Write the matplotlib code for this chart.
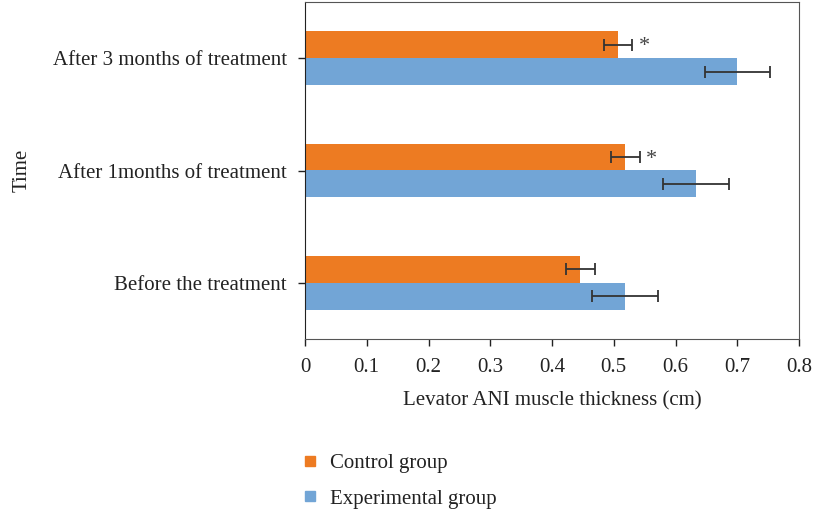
import numpy as np
import matplotlib.pyplot as plt
from matplotlib.lines import Line2D

categories = ['Before the treatment', 'After 1months of treatment',
              'After 3 months of treatment']
control = [0.446, 0.519, 0.507]
control_err = [0.023, 0.023, 0.023]
experimental = [0.518, 0.633, 0.700]
experimental_err = [0.053, 0.054, 0.053]
significant = [False, True, True]

plt.rcParams['font.family'] = ['Liberation Serif', 'DejaVu Serif']

c_orange = '#ED7B22'
c_blue = '#72A5D6'
fs = 15

fig = plt.figure(figsize=(8.19, 5.16), dpi=100)
ax = fig.add_axes([305 / 819, 1 - 339 / 516, 494 / 819, 337 / 516])

y = np.arange(len(categories))
h = 0.24
ekw = dict(ecolor='#333333', elinewidth=1.3, capsize=4, capthick=1.3)
ax.barh(y + h / 2, control, height=h, color=c_orange, xerr=control_err,
        error_kw=ekw, zorder=2)
ax.barh(y - h / 2, experimental, height=h, color=c_blue, xerr=experimental_err,
        error_kw=ekw, zorder=2)

for i in range(len(categories)):
  if significant[i]:
    ax.text(control[i] + control_err[i] + 0.01, y[i] + h / 2 - 0.02, '*',
            fontsize=16, color='#444444', ha='left', va='center')

ax.set_xlim(0, 0.8)
ax.set_ylim(-0.5, 2.5)
ax.set_xticks(np.arange(0, 0.81, 0.1))
ax.set_xticklabels(['0'] + ['%.1f' % v for v in np.arange(0.1, 0.81, 0.1)])
ax.set_yticks(y)
ax.set_yticklabels(categories)
ax.tick_params(axis='both', labelsize=fs, colors='#222222', length=5,
               width=1, direction='out')
ax.tick_params(axis='y', pad=8)
ax.tick_params(axis='x', pad=9)
for s in ['top', 'right', 'bottom']:
  ax.spines[s].set_color('#555555')
ax.spines['left'].set_color('#222222')

ax.set_xlabel('Levator ANI muscle thickness (cm)', fontsize=fs,
              color='#222222', labelpad=10)
fig.text(22 / 819, 1 - 170 / 516, 'Time', rotation=90, fontsize=fs,
         color='#222222', ha='center', va='center')

handles = [Line2D([], [], marker='s', linestyle='none', markersize=7,
                  color=c_orange),
           Line2D([], [], marker='s', linestyle='none', markersize=7,
                  color=c_blue)]
fig.legend(handles, ['Control group', 'Experimental group'], frameon=False,
           loc='upper left', bbox_to_anchor=(293 / 819, 1 - 445 / 516),
           fontsize=fs, handlelength=0.8, handletextpad=0.6,
           labelspacing=0.78, labelcolor='#222222', borderaxespad=0)

fig.savefig('out.png', dpi=100)
